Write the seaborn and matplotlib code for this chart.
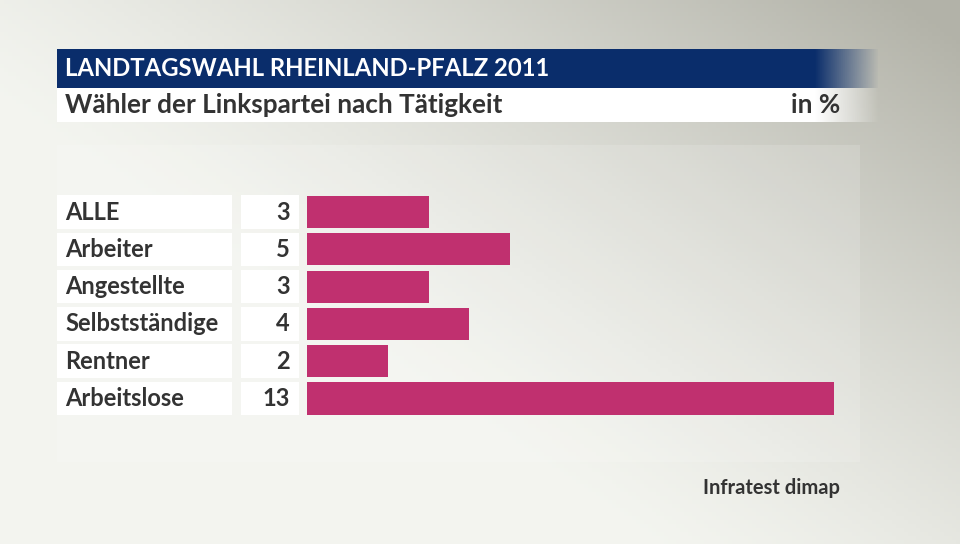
import numpy as np
import matplotlib
matplotlib.use("Agg")
import matplotlib.pyplot as plt
import matplotlib.transforms as mtransforms
from matplotlib.patches import Rectangle
import seaborn as sns

# Data
categories = ["ALLE", "Arbeiter", "Angestellte", "Selbstständige", "Rentner", "Arbeitslose"]
values = [3, 5, 3, 4, 2, 13]
title = "LANDTAGSWAHL RHEINLAND-PFALZ 2011"
subtitle = "Wähler der Linkspartei nach Tätigkeit"
unit = "in %"
source = "Infratest dimap"

sns.set_theme(style="white")
plt.rcParams["font.family"] = ["Lato", "DejaVu Sans"]

W, H = 960, 544
fig = plt.figure(figsize=(W / 100, H / 100), dpi=100)


def fx(px):
    return px / W


def fy(py):
    return 1 - py / H


# background gradient (light bottom-left, darker top-right)
bg = fig.add_axes([0, 0, 1, 1])
xx, yy = np.meshgrid(np.linspace(0, 1, 240), np.linspace(0, 1, 136))
d = np.clip(0.9 * xx - 0.75 * (1 - yy) + 0.15, 0, 1) ** 1.3
light = np.array([0.955, 0.96, 0.94])
dark = np.array([0.70, 0.70, 0.66])
img = light[None, None, :] * (1 - d[..., None]) + dark[None, None, :] * d[..., None]
bg.imshow(img, extent=[0, 1, 0, 1], aspect="auto", origin="lower")
bg.set_axis_off()

# lighter panel behind the chart
bg.add_patch(Rectangle((fx(57), fy(462)), fx(860) - fx(57), fy(145) - fy(462),
                       transform=fig.transFigure, color="white", alpha=0.15, lw=0))


def fading_bar(y0, y1, rgb):
    ax_b = fig.add_axes([fx(57), fy(y1), fx(880) - fx(57), fy(y0) - fy(y1)])
    n = 400
    alpha = np.ones(n)
    start = int(n * (815 - 57) / (880 - 57))
    alpha[start:] = np.linspace(1, 0, n - start)
    arr = np.zeros((1, n, 4))
    arr[..., :3] = rgb
    arr[..., 3] = alpha
    ax_b.imshow(arr, extent=[0, 1, 0, 1], aspect="auto")
    ax_b.set_axis_off()


fading_bar(49, 88, [0.04, 0.18, 0.42])
fading_bar(88, 122, [1, 1, 1])

fig.text(fx(65), fy(69), title, color="white", fontsize=17.2, fontweight="bold", va="center")
fig.text(fx(65), fy(105), subtitle, color="#333333", fontsize=18.8, fontweight="bold", va="center")
fig.text(fx(840), fy(105), unit, color="#333333", fontsize=18.8, fontweight="bold", va="center", ha="right")
fig.text(fx(840), fy(488), source, color="#333333", fontsize=14.5, fontweight="bold", va="center", ha="right")

# bar chart area
row_h = 37.3
top = 212 - row_h / 2
bottom = top + row_h * len(categories)
ax = fig.add_axes([fx(307), fy(bottom), fx(834) - fx(307), fy(top) - fy(bottom)])
ax.patch.set_alpha(0)
sns.barplot(x=values, y=categories, orient="h", color="#c0306f", saturation=1,
            width=0.86, linewidth=0, ax=ax)
ax.set_xlim(0, 13)
ax.set_ylim(len(categories) - 0.5, -0.5)
ax.set_axis_off()

trans = mtransforms.blended_transform_factory(fig.transFigure, ax.transData)
box_h = 0.9
for i, (cat, val) in enumerate(zip(categories, values)):
    ax.add_patch(Rectangle((fx(57), i - box_h / 2), fx(232) - fx(57), box_h,
                           transform=trans, color="white", lw=0, clip_on=False))
    ax.add_patch(Rectangle((fx(241), i - box_h / 2), fx(299) - fx(241), box_h,
                           transform=trans, color="white", lw=0, clip_on=False))
    ax.text(fx(65), i, cat, transform=trans, fontsize=17, fontweight="bold",
            color="#333333", va="center", ha="left")
    ax.text(fx(290), i, str(val), transform=trans, fontsize=17, fontweight="bold",
            color="#333333", va="center", ha="right")

fig.savefig("out.png", dpi=100)
